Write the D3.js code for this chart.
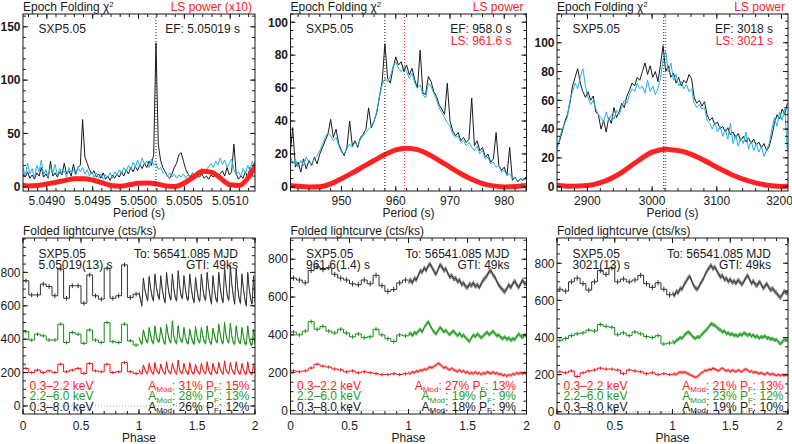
<!DOCTYPE html>
<html>
<head>
<meta charset="utf-8">
<script src="https://cdn.jsdelivr.net/npm/d3@7"></script>
<style>
  body { margin: 0; background: #fff; }
  svg text { font-family: "Liberation Sans", Arial, Helvetica, sans-serif; }
</style>
</head>
<body>
<svg id="chart" width="792" height="444"></svg>
<script>
// ---------------- data ----------------
// epoch folding chi^2, regular period grids
var ef1Start = 5.04874, ef1Step = 0.000025;
var ef1Black = [12,9,14,8,11,7,13,10,18,9, 12,8,24,10,13,9,14,11,22,12, 15,10,21,12,18,20,63,28,22,16,
  12,15,9,12,8,13,7,10,6,11, 8,12,9,14,10,16,12,18,14,19, 15,21,17,22,18,24,20,30,135,40,
  25,18,14,10,8,12,18,22,30,32, 24,16,12,9,13,8,11,9,12,8, 10,7,11,9,14,10,12,15,10,18,
  11,14,40,12,7,10,8,14,9,18, 12,20];
var ef1Cyan = [18,10,22,12,17,8,20,14,25,11, 16,9,19,13,21,10,17,12,15,9, 18,13,16,11,19,14,18,12,16,10,
  14,9,13,8,12,7,11,9,13,8, 14,11,16,12,18,14,20,16,23,18, 25,19,27,21,24,18,26,20,22,16,
  18,13,15,10,13,9,12,8,11,9, 12,8,11,10,13,9,14,11,17,13, 16,19,22,18,24,20,27,21,25,18,
  22,26,16,11,14,10,17,12,20,15, 24,18];
var ls1Period = [5.0487,5.0488,5.0489,5.0490,5.0491,5.0492,5.0493,5.0494,5.0495,5.0496,5.0497,5.0498,5.0499,
  5.0500,5.0501,5.0502,5.0503,5.0504,5.0505,5.0506,5.0507,5.0508,5.0509,5.0510,5.0511,5.0512,5.0513];
var ls1Power = [1.5,0.8,1.2,2.5,4.2,6.0,7.4,7.6,6.3,3.8,1.2,0.5,1.8,3.2,3.6,2.6,0.8,0.3,3.5,9,14.5,13.5,7.5,1.8,1.2,9,24];

var ef2Start = 940.5, ef2Step = 0.5;
var ef2Black = [18,36,12,15,9,17,11,16,13,18, 14,20,24,28,32,41,30,35,26,22, 19,24,40,25,28,24,30,32,35,48,
  36,40,45,55,64,87,66,63,72,79, 74,76,70,74,68,72,65,60,83,57, 56,67,64,58,55,50,47,44,63,40,
  34,31,33,28,30,27,29,54,25,28, 22,24,18,20,15,17,33,13,10,12, 7,24,4,6,3,5,4,6];
var ef2Cyan = [20,14,17,12,16,13,18,15,14,17, 19,22,26,30,33,31,28,30,25,21, 20,23,26,24,27,25,29,31,33,35,
  37,40,46,55,62,66,64,67,73,76, 72,70,73,70,66,69,63,60,62,56, 54,63,61,57,53,48,45,42,39,37,
  32,30,31,27,28,25,27,24,22,25, 20,22,17,18,14,15,12,13,9,10, 7,8,5,6,3,5,4,5];
var ls2Period = [940,942,944,946,948,950,952,954,956,958,960,962,964,966,968,970,972,974,976,978,980,982,984];
var ls2Power = [1.0,0.4,0.0,0.1,1.8,5.0,8.5,12.3,16.0,19.6,22.5,23.5,22.6,19.8,16.0,12.0,8.0,4.6,2.0,0.6,0.0,0.2,0.8];

var ef3Start = 2853, ef3Step = 4;
var ef3Black = [28,32,38,45,50,58,70,76,82,72, 66,62,66,60,63,52,50,40,46,38, 48,44,55,48,52,58,55,63,67,72,
  70,76,74,80,86,78,84,76,80,73, 85,98,80,84,76,79,72,76,70,74, 72,78,75,62,58,60,56,59,50,46,
  48,43,45,40,42,38,41,36,38,34, 37,32,35,31,34,30,33,29,31,27, 30,25,28,35,44,50,47,54,50,58];
var ef3Cyan = [25,34,40,44,48,60,66,72,68,76, 82,70,62,57,60,54,50,48,45,52, 46,50,47,53,50,55,60,58,64,68,
  66,72,68,70,65,74,66,70,64,68, 76,88,94,80,86,74,78,70,73,68, 71,66,68,58,55,57,54,55,46,44,
  40,45,38,42,35,40,33,44,30,36, 28,34,30,38,26,32,25,30,24,28, 21,26,30,40,48,42,52,46,55,25];
var ls3Period = [2850,2875,2900,2925,2950,2975,3000,3021,3025,3050,3075,3100,3125,3150,3175,3200,3225];
var ls3Power = [1.2,0.3,0.8,3.5,9,17,24,26,25.9,24.2,19.5,13.5,8,3.8,1.2,0.2,0.5];

var efBest = [5.05019, 958.0, 3018];
var lsBest = [null, 961.6, 3021];
var efLabels = ["EF: 5.05019 s", "EF: 958.0 s", "EF: 3018 s"];
var lsLabels = [null, "LS: 961.6 s", "LS: 3021 s"];
var lsTitles = ["LS power (x10)", "LS power", "LS power"];

var ef1XTicks = [5.0490, 5.0495, 5.0500, 5.0505, 5.0510], ef1YTicks = [0, 50, 100, 150];
var ef2XTicks = [950, 960, 970, 980], ef2YTicks = [0, 20, 40, 60, 80, 100];
var ef3XTicks = [2900, 3000, 3100, 3200], ef3YTicks = [0, 20, 40, 60, 80, 100];

// folded light curves: 20 bins for phase 0-1, finer curve for phase 1-2
var lc1BlackStep = [750,665,665,730,715,660,820,645,720,720,615,785,660,640,825,645,660,845,650,670];
var lc1GreenStep = [445,395,430,420,395,395,490,380,440,430,375,455,395,380,500,385,380,490,390,365];
var lc1RedStep   = [225,200,215,200,210,200,250,205,215,225,195,255,210,205,250,200,205,260,205,195];
var lc1BlackFine = [680,640,600,765, 700,660,630,775, 705,655,630,790, 710,665,640,780, 700,650,620,800,
  715,660,635,790, 705,650,630,810, 720,660,645,780, 700,645,635,790, 710,650,620,770,
  695,640,630,790, 705,650,635,800, 715,655,610,780, 700,640,625,800, 710,650,620,830,
  725,655,635,840, 730,660,610,820, 715,645,615,790, 700,640,600,800, 700,640,610,780, 620];
var lc1GreenFine = [410,385,370,455, 420,390,380,470, 425,385,375,480, 415,390,385,470, 425,385,370,490,
  430,390,380,510, 420,385,375,480, 415,390,385,470, 410,380,375,460, 415,385,370,475,
  415,390,380,470, 420,385,375,480, 410,380,370,465, 425,390,380,490, 430,385,375,500,
  425,390,380,495, 420,380,370,480, 415,385,375,470, 415,375,370,480, 405,370,365,460, 370];
var lc1RedFine = [215,200,190,245, 220,200,195,255, 220,200,190,260, 215,200,195,250, 220,200,190,265,
  215,200,195,255, 225,200,190,275, 215,200,195,255, 220,200,190,260, 215,195,195,250,
  215,200,190,255, 220,200,195,265, 215,195,190,255, 220,200,195,260, 225,200,190,270,
  215,200,195,260, 220,200,190,265, 215,195,195,255, 220,195,190,265, 210,195,190,250, 195];

var lc2BlackStep = [700,690,675,740,760,745,755,720,700,690,670,665,690,670,715,660,630,640,675,690];
var lc2GreenStep = [415,400,420,470,430,445,420,410,430,410,390,405,385,390,430,400,380,365,400,395];
var lc2RedStep   = [210,205,210,225,245,235,230,220,215,205,210,200,205,200,195,190,190,195,190,195];
var lc2BlackFine = [680,690,675,700,690,715,740,730,755,740, 765,775,755,735,720,745,770,760,740,750,
  725,705,715,695,700,680,690,665,675,655, 650,670,660,675,655,665,650,670,690,700,
  715,735,740,715,705,680,660,650,635,628, 645,665,650,670,685,665,650,670,690,670, 675];
var lc2GreenFine = [400,410,395,415,405,420,430,415,440,455, 470,450,430,415,405,420,440,430,415,425,
  410,400,415,420,405,395,410,390,400,385, 375,365,385,400,390,405,395,385,395,405,
  415,400,410,420,405,395,400,385,380,390, 375,385,370,380,375,390,405,395,385,400, 395];
var lc2RedFine = [200,195,205,200,210,205,215,210,220,215, 225,230,225,235,240,250,245,235,225,230,
  220,215,225,215,210,205,215,205,210,200, 205,195,200,195,205,195,200,190,200,195,
  205,200,195,205,195,200,190,195,185,190, 180,190,185,195,190,200,195,200,195,200, 195];

var lc3BlackStep = [660,650,700,720,690,655,700,760,740,775,700,715,700,710,735,690,670,695,660,630];
var lc3GreenStep = [385,395,410,420,425,440,435,470,460,455,415,425,410,430,420,405,400,410,365,370];
var lc3RedStep   = [215,210,220,190,210,220,225,235,230,230,225,205,225,220,215,205,210,200,205,200];
var lc3BlackFine = [640,625,650,640,665,660,685,700,720,730, 705,680,665,660,680,700,715,740,760,775,
  790,770,780,760,740,725,735,710,720,700, 715,695,705,690,710,700,685,700,720,735,
  715,690,705,685,680,700,690,665,675,690, 670,655,665,650,640,625,615,630,650,640, 645];
var lc3GreenFine = [380,370,385,390,400,395,410,420,430,425, 410,400,395,405,400,415,425,435,445,460,
  475,470,465,455,445,440,430,435,420,425, 415,420,410,415,405,420,410,425,420,410,
  420,405,415,400,410,395,405,400,410,395, 400,390,395,385,390,375,365,375,390,385, 390];
var lc3RedFine = [200,205,200,210,215,210,215,210,205,200, 195,190,185,190,200,210,215,225,220,230,
  225,235,230,225,220,230,235,225,220,225, 215,225,220,215,225,220,215,225,230,225,
  215,220,210,215,210,205,210,205,200,210, 205,200,205,200,195,200,195,200,195,200, 195];

var lcErrors = [14, 11, 9];                 // black, green, red (cts/ks)
var periodLabels = ["5.05019(13) s", "961.6(1.4) s", "3021(13) s"];
var bandLabels = ["0.3\u20132.2 keV", "2.2\u20136.0 keV", "0.3\u20138.0 keV"];
var lc1Stats = [[31, 15], [28, 13], [26, 12]];   // red, green, black: A_Mod, P_F
var lc2Stats = [[27, 13], [19, 9], [18, 9]];
var lc3Stats = [[21, 13], [23, 12], [19, 10]];
var lcXTicks = [0, 0.5, 1, 1.5, 2], lcYTicks = [0, 200, 400, 600, 800];

// ---------------- drawing ----------------
var INK = "#1a1a1a", RED = "#ff2222", GREEN = "#1e9a1e", CYAN = "#1eb2ea";
var svg = d3.select("#chart");
var cols = [[23, 255], [290.5, 526.5], [557, 788]];
var clipId = 0;

function addText(g, x, y, s, o) {
    o = o || {};
    return g.append("text").attr("x", x).attr("y", y)
        .attr("font-size", o.size || 12)
        .attr("fill", o.color || INK)
        .attr("text-anchor", o.anchor || "start")
        .attr("font-weight", o.weight || "normal")
        .text(s);
}

// IDL style box: inward ticks on all four sides
function drawFrame(g, x, y, xt, xMinor, yt, yMinor, xFmt, labelGap, yBold) {
    var xr = x.range(), yr = y.range(), xd = x.domain(), yd = y.domain();
    var tk = g.append("g").attr("stroke", INK).attr("stroke-width", 1);
    var seg = function(x1, y1, x2, y2) {
        tk.append("line").attr("x1", x1).attr("y1", y1).attr("x2", x2).attr("y2", y2);
    };
    var minX = d3.range(Math.ceil(xd[0] / xMinor - 1e-6), Math.floor(xd[1] / xMinor + 1e-6) + 1).map(function(k) { return k * xMinor; });
    var minY = d3.range(Math.ceil(yd[0] / yMinor - 1e-6), Math.floor(yd[1] / yMinor + 1e-6) + 1).map(function(k) { return k * yMinor; });
    minX.forEach(function(v) { seg(x(v), yr[0], x(v), yr[0] - 3); seg(x(v), yr[1], x(v), yr[1] + 3); });
    xt.forEach(function(v) { seg(x(v), yr[0], x(v), yr[0] - 5); seg(x(v), yr[1], x(v), yr[1] + 5); });
    minY.forEach(function(v) { seg(xr[0], y(v), xr[0] + 3, y(v)); seg(xr[1], y(v), xr[1] - 3, y(v)); });
    yt.forEach(function(v) { seg(xr[0], y(v), xr[0] + 5, y(v)); seg(xr[1], y(v), xr[1] - 5, y(v)); });
    g.append("rect").attr("x", xr[0]).attr("y", yr[1])
        .attr("width", xr[1] - xr[0]).attr("height", yr[0] - yr[1])
        .attr("fill", "none").attr("stroke", INK).attr("stroke-width", 1);
    xt.forEach(function(v) {
        // keep the last label inside the window, as in the original
        addText(g, Math.min(x(v), 779.5), yr[0] + labelGap, xFmt(v), { anchor: "middle" });
    });
    yt.forEach(function(v) {
        addText(g, xr[0] - 2.5, y(v) + 4.3, String(v), { anchor: "end", weight: yBold ? "bold" : "normal" });
    });
}

function makeClip(x, y) {
    var id = "clip" + (clipId++);
    svg.append("clipPath").attr("id", id).append("rect")
        .attr("x", x.range()[0]).attr("y", y.range()[1])
        .attr("width", x.range()[1] - x.range()[0]).attr("height", y.range()[0] - y.range()[1]);
    return "url(#" + id + ")";
}

function drawTop(i, cfg) {
    var g = svg.append("g");
    var x = d3.scaleLinear().domain(cfg.xDomain).range(cols[i]);
    var y = d3.scaleLinear().domain(cfg.yDomain).range([191, 14]);
    var plot = g.append("g").attr("clip-path", makeClip(x, y));

    var efLine = d3.line()
        .x(function(d, k) { return x(cfg.start + k * cfg.step); })
        .y(function(d) { return y(d); });
    plot.append("path").attr("d", efLine(cfg.black)).attr("fill", "none").attr("stroke", INK).attr("stroke-width", 1);
    plot.append("path").attr("d", efLine(cfg.cyan)).attr("fill", "none").attr("stroke", CYAN).attr("stroke-width", 1);

    var lsLine = d3.line().curve(d3.curveMonotoneX)
        .x(function(d, k) { return x(cfg.lsP[k]); })
        .y(function(d) { return y(d); });
    plot.append("path").attr("d", lsLine(cfg.lsV)).attr("fill", "none").attr("stroke", RED).attr("stroke-width", 5);

    plot.append("line").attr("x1", x(efBest[i])).attr("x2", x(efBest[i])).attr("y1", 14).attr("y2", 191)
        .attr("stroke", INK).attr("stroke-dasharray", "1,2");
    if (lsBest[i] !== null) {
        plot.append("line").attr("x1", x(lsBest[i])).attr("x2", x(lsBest[i])).attr("y1", 14).attr("y2", 191)
            .attr("stroke", RED).attr("stroke-dasharray", "1,2");
    }

    drawFrame(g, x, y, cfg.xTicks, cfg.xMinor, cfg.yTicks, cfg.yMinor, cfg.fmt, 13.5, true);

    var x0 = cols[i][0], x1 = cols[i][1];
    var t = addText(g, x0, 10.5, "Epoch Folding \u03c7");
    t.append("tspan").attr("font-size", 8).attr("dy", -4).text("2");
    addText(g, x1 - 3, 10.5, lsTitles[i], { anchor: "end", color: RED });
    addText(g, x0 + 15.5, 32.6, "SXP5.05");
    addText(g, x1 - 15, 32.6, efLabels[i], { anchor: "end" });
    if (lsLabels[i]) addText(g, x1 - 15, 45, lsLabels[i], { anchor: "end", color: RED });
    addText(g, (x0 + x1) / 2, 217, "Period (s)", { anchor: "middle" });
}

function addStats(g, x, y, color, s) {
    var t = g.append("text").attr("x", x).attr("y", y).attr("text-anchor", "end")
        .attr("fill", color).attr("font-size", 12);
    t.append("tspan").text("A");
    t.append("tspan").attr("font-size", 8).attr("dy", 2.5).text("Mod");
    t.append("tspan").attr("dy", -2.5).text(": " + s[0] + "% P");
    t.append("tspan").attr("font-size", 8).attr("dy", 2.5).text("F");
    t.append("tspan").attr("dy", -2.5).text(": " + s[1] + "%");
}

function drawLC(i, cfg) {
    var g = svg.append("g");
    var x = d3.scaleLinear().domain([0, 2]).range(cols[i]);
    var y = d3.scaleLinear().domain(cfg.yDomain).range([414, 238]);
    var x0 = cols[i][0], x1 = cols[i][1];

    addText(g, x0, 234.5, "Folded lightcurve (cts/ks)");
    addText(g, x0 + 15.5, 257.6, "SXP5.05");
    addText(g, x0 + 15.5, 269.3, periodLabels[i]);
    addText(g, x1 - 17, 257.6, "To: 56541.085 MJD", { anchor: "end" });
    addText(g, x1 - 17, 269.3, "GTI: 49ks", { anchor: "end" });

    var plot = g.append("g").attr("clip-path", makeClip(x, y));
    plot.append("line").attr("x1", x0).attr("x2", x1).attr("y1", y(0)).attr("y2", y(0))
        .attr("stroke", "#aaa").attr("stroke-dasharray", "1,2");

    var bands = [
        { step: cfg.blackStep, fine: cfg.blackFine, line: "#303030", band: "#8a8a8a", err: lcErrors[0] },
        { step: cfg.greenStep, fine: cfg.greenFine, line: "#168c16", band: "#66c066", err: lcErrors[1] },
        { step: cfg.redStep, fine: cfg.redFine, line: "#f01414", band: "#ff8c8c", err: lcErrors[2] }
    ];
    bands.forEach(function(b) {
        var n = b.step.length;
        var pts = b.step.map(function(v, k) { return [k / n, v]; }).concat([[1, b.step[n - 1]]]);
        var stepLine = d3.line().curve(d3.curveStepAfter)
            .x(function(d) { return x(d[0]); }).y(function(d) { return y(d[1]); });
        plot.append("path").attr("d", stepLine(pts)).attr("fill", "none").attr("stroke", b.line).attr("stroke-width", 1);
        b.step.forEach(function(v, k) {
            plot.append("line").attr("x1", x((k + 0.5) / n)).attr("x2", x((k + 0.5) / n))
                .attr("y1", y(v - b.err)).attr("y2", y(v + b.err)).attr("stroke", b.line);
        });
        var m = b.fine.length - 1;
        var fx = function(d, k) { return x(1 + k / m); };
        var area = d3.area().x(fx)
            .y0(function(d) { return y(d - b.err); }).y1(function(d) { return y(d + b.err); });
        plot.append("path").attr("d", area(b.fine)).attr("fill", b.band);
        var line = d3.line().x(fx).y(function(d) { return y(d); });
        plot.append("path").attr("d", line(b.fine)).attr("fill", "none").attr("stroke", b.line).attr("stroke-width", 1);
    });

    drawFrame(g, x, y, lcXTicks, 0.1, lcYTicks, 50, d3.format("~g"), 15.5, false);

    var colors = [RED, GREEN, INK], rows = [389.5, 400, 410.5];
    bandLabels.forEach(function(s, k) {
        addText(g, x0 + 6.5, rows[k], s, { color: colors[k] });
        addStats(g, cfg.statsRight, rows[k], colors[k], cfg.stats[k]);
    });
    addText(g, (x0 + x1) / 2, 442, "Phase", { anchor: "middle" });
}

drawTop(0, { xDomain: [5.04874, 5.05127], yDomain: [-4, 162], start: ef1Start, step: ef1Step,
    black: ef1Black, cyan: ef1Cyan, lsP: ls1Period, lsV: ls1Power,
    xTicks: ef1XTicks, xMinor: 0.0001, yTicks: ef1YTicks, yMinor: 10, fmt: d3.format(".4f") });
drawTop(1, { xDomain: [940.6, 984.1], yDomain: [-2.5, 105], start: ef2Start, step: ef2Step,
    black: ef2Black, cyan: ef2Cyan, lsP: ls2Period, lsV: ls2Power,
    xTicks: ef2XTicks, xMinor: 2, yTicks: ef2YTicks, yMinor: 5, fmt: d3.format("d") });
drawTop(2, { xDomain: [2853, 3210], yDomain: [-3, 120], start: ef3Start, step: ef3Step,
    black: ef3Black, cyan: ef3Cyan, lsP: ls3Period, lsV: ls3Power,
    xTicks: ef3XTicks, xMinor: 20, yTicks: ef3YTicks, yMinor: 5, fmt: d3.format("d") });

drawLC(0, { yDomain: [-48, 1006], blackStep: lc1BlackStep, greenStep: lc1GreenStep, redStep: lc1RedStep,
    blackFine: lc1BlackFine, greenFine: lc1GreenFine, redFine: lc1RedFine, stats: lc1Stats, statsRight: 249.5 });
drawLC(1, { yDomain: [-18, 912], blackStep: lc2BlackStep, greenStep: lc2GreenStep, redStep: lc2RedStep,
    blackFine: lc2BlackFine, greenFine: lc2GreenFine, redFine: lc2RedFine, stats: lc2Stats, statsRight: 516 });
drawLC(2, { yDomain: [-12, 936], blackStep: lc3BlackStep, greenStep: lc3GreenStep, redStep: lc3RedStep,
    blackFine: lc3BlackFine, greenFine: lc3GreenFine, redFine: lc3RedFine, stats: lc3Stats, statsRight: 783.5 });
</script>
</body>
</html>
